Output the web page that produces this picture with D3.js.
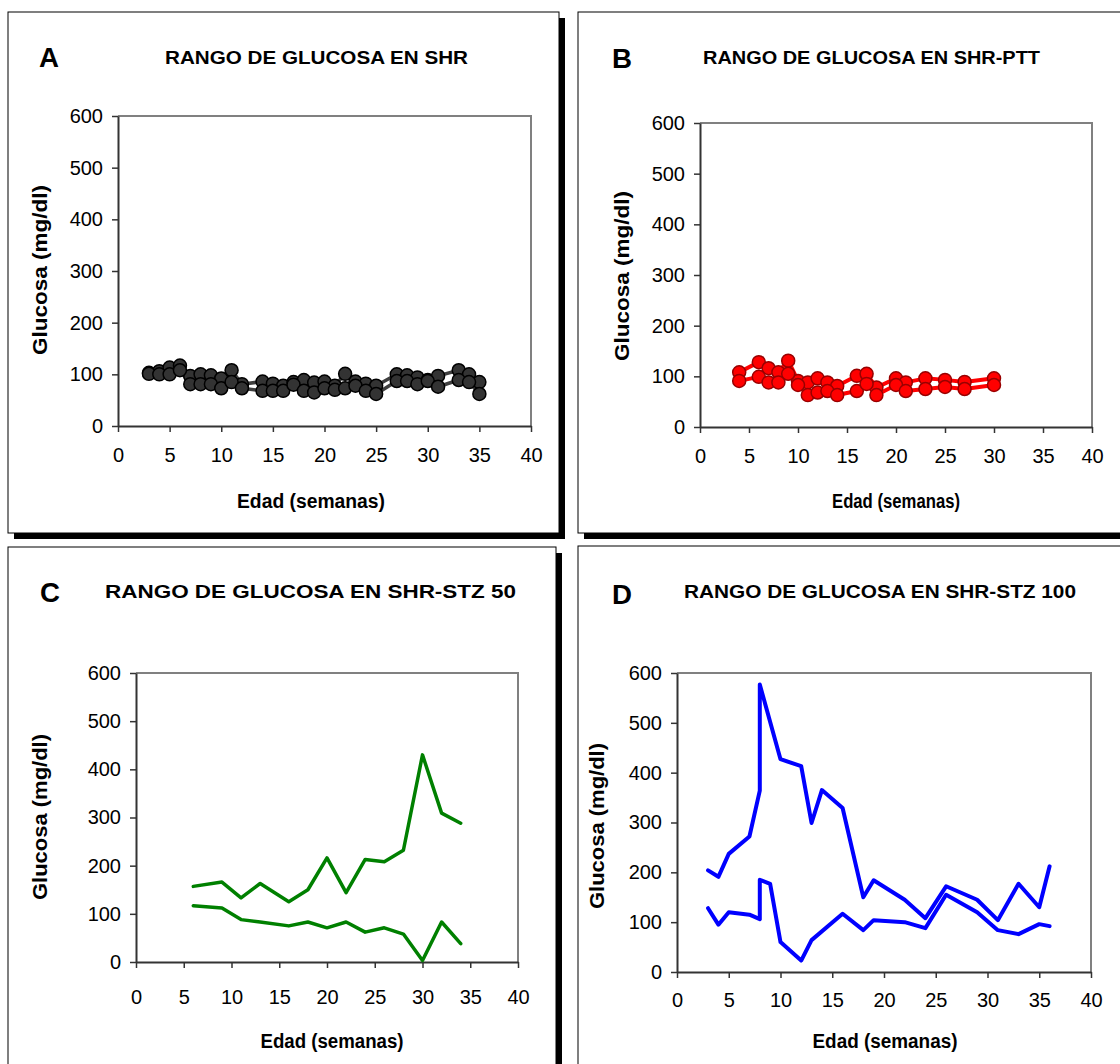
<!DOCTYPE html>
<html>
<head>
<meta charset="utf-8">
<script src="https://cdn.jsdelivr.net/npm/d3@7"></script>
<style>
  html, body { margin: 0; padding: 0; background: #fff; }
  svg { display: block; font-family: "Liberation Sans", Arial, sans-serif; }
</style>
</head>
<body>
<svg id="chart" width="1120" height="1064"></svg>
<script>
// ---------------- DATA ----------------
const xTicks = [0, 5, 10, 15, 20, 25, 30, 35, 40];
const yTicks = [0, 100, 200, 300, 400, 500, 600];

// Panel A: SHR
const weeksA = [3,4,5,6,7,8,9,10,11,12,14,15,16,17,18,19,20,21,22,23,24,25,27,28,29,30,31,33,34,35];
const shrHigh = [103,106,113,117,97,100,98,92,108,81,86,82,78,85,89,84,86,78,101,86,82,78,100,98,94,89,97,108,100,85];
const shrLow  = [101,100,100,108,81,81,81,73,85,73,68,68,68,80,68,65,73,70,73,78,68,62,87,87,81,87,76,89,85,62];

// Panel B: SHR-PTT
const weeksB = [4,6,7,8,9,10,11,12,13,14,16,17,18,20,21,23,25,27,30];
const pttHigh = [108,128,116,108,131,91,88,96,88,81,101,105,78,96,88,96,93,89,96];
const pttLow  = [91,99,88,88,105,83,63,68,71,63,71,85,63,83,71,75,79,75,83];

// Panel C: SHR-STZ 50
const weeksC = [6,9,11,13,16,18,20,22,24,26,28,30,32,34];
const stz50High = [157,166,133,163,125,150,216,144,213,208,232,430,309,288];
const stz50Low  = [117,112,88,83,75,83,71,83,62,71,58,3,83,38];

// Panel D: SHR-STZ 100
const weeksDHigh = [3,4,5,7,8,8,10,12,13,14,16,18,19,22,24,26,29,31,33,35,36];
const stz100High = [204,191,237,272,364,577,427,413,299,365,329,150,184,145,108,172,145,104,177,130,212];
const weeksDLow  = [3,4,5,7,8,8,9,10,12,13,16,18,19,22,24,26,29,31,33,35,36];
const stz100Low  = [128,95,120,115,106,185,177,60,23,64,117,84,104,100,88,155,120,84,76,96,92];

const letters = ["A", "B", "C", "D"];
const titles = [
  "RANGO DE GLUCOSA EN SHR",
  "RANGO DE GLUCOSA EN SHR-PTT",
  "RANGO DE GLUCOSA EN SHR-STZ 50",
  "RANGO DE GLUCOSA EN SHR-STZ 100"
];
const xTitle = "Edad (semanas)";
const yTitle = "Glucosa (mg/dl)";

// ---------------- DRAW ----------------
const svg = d3.select("#chart");
svg.append("rect").attr("width", 1120).attr("height", 1064).attr("fill", "#fff");

// panel frames with drop shadows
const frames = [
  {x: 8, y: 12, w: 551, h: 521},
  {x: 578, y: 12, w: 560, h: 521},
  {x: 8, y: 547, w: 548, h: 540},
  {x: 578, y: 546, w: 560, h: 540}
];
frames.forEach(f => {
  svg.append("rect").attr("x", f.x + 6).attr("y", f.y + 6).attr("width", f.w).attr("height", f.h).attr("fill", "#000");
  svg.append("rect").attr("x", f.x).attr("y", f.y).attr("width", f.w).attr("height", f.h)
    .attr("fill", "#fff").attr("stroke", "#000").attr("stroke-width", 1);
});

const panels = [
  {
    left: 118, right: 531, top: 116, bottom: 426,
    letterX: 39, letterY: 67, titleX0: 165, titleX1: 468, titleY: 64,
    xLabY: 36, xTitleX: 311, xTitleY: 508, xTitleLen: 148,
    yTitleX: 47, yTitleY: 270, yTitleLen: 170,
    series: [{x: weeksA, y: shrHigh}, {x: weeksA, y: shrLow}],
    color: "#3f3f3f", lw: 3.5, marker: {fill: "#333", stroke: "#000", r: 6.5}
  },
  {
    left: 700, right: 1092, top: 123, bottom: 427,
    letterX: 612, letterY: 68, titleX0: 703, titleX1: 1040, titleY: 64,
    xLabY: 36, xTitleX: 896, xTitleY: 508, xTitleLen: 128,
    yTitleX: 629, yTitleY: 276, yTitleLen: 170,
    series: [{x: weeksB, y: pttHigh}, {x: weeksB, y: pttLow}],
    color: "#ff0000", lw: 4, marker: {fill: "#ff0000", stroke: "#990000", r: 6.5}
  },
  {
    left: 136, right: 518, top: 673, bottom: 962,
    letterX: 40, letterY: 602, titleX0: 105, titleX1: 516, titleY: 598,
    xLabY: 42, xTitleX: 332, xTitleY: 1048, xTitleLen: 143,
    yTitleX: 47, yTitleY: 817, yTitleLen: 166,
    series: [{x: weeksC, y: stz50High}, {x: weeksC, y: stz50Low}],
    color: "#008000", lw: 3.5, marker: null
  },
  {
    left: 677, right: 1091, top: 673, bottom: 972,
    letterX: 612, letterY: 604, titleX0: 684, titleX1: 1076, titleY: 598,
    xLabY: 35, xTitleX: 885, xTitleY: 1048, xTitleLen: 145,
    yTitleX: 604, yTitleY: 826, yTitleLen: 166,
    series: [{x: weeksDHigh, y: stz100High}, {x: weeksDLow, y: stz100Low}],
    color: "#0000ff", lw: 4, marker: null
  }
];

panels.forEach((p, i) => {
  const g = svg.append("g");
  const x = d3.scaleLinear().domain([0, 40]).range([p.left, p.right]);
  const y = d3.scaleLinear().domain([0, 600]).range([p.bottom, p.top]);

  // letter + title
  g.append("text").attr("x", p.letterX).attr("y", p.letterY)
    .attr("font-size", 27).attr("font-weight", "bold")
    .attr("textLength", 20).attr("lengthAdjust", "spacingAndGlyphs")
    .text(letters[i]);
  g.append("text").attr("x", p.titleX0).attr("y", p.titleY)
    .attr("font-size", 19).attr("font-weight", "bold")
    .attr("textLength", p.titleX1 - p.titleX0).attr("lengthAdjust", "spacingAndGlyphs")
    .text(titles[i]);

  // plot border (gray top & right)
  g.append("path")
    .attr("d", `M${p.left},${p.top}H${p.right}V${p.bottom}`)
    .attr("fill", "none").attr("stroke", "#808080").attr("stroke-width", 2);

  // axes
  const xAxis = d3.axisBottom(x).tickValues(xTicks).tickSize(6).tickSizeOuter(0).tickPadding(p.xLabY - 20);
  const yAxis = d3.axisLeft(y).tickValues(yTicks).tickSize(6).tickSizeOuter(0).tickPadding(9);
  const gx = g.append("g").attr("transform", `translate(0,${p.bottom})`).call(xAxis);
  const gy = g.append("g").attr("transform", `translate(${p.left},0)`).call(yAxis);
  [gx, gy].forEach(ax => {
    ax.select(".domain").attr("stroke", "#333").attr("stroke-width", 2);
    ax.selectAll(".tick line").attr("stroke", "#333").attr("stroke-width", 1.5);
    ax.selectAll(".tick text").attr("font-size", 20).attr("fill", "#000")
      .attr("font-family", "'Liberation Sans', Arial, sans-serif");
  });

  // axis titles
  g.append("text").attr("x", p.xTitleX).attr("y", p.xTitleY)
    .attr("text-anchor", "middle").attr("font-size", 20).attr("font-weight", "bold")
    .attr("textLength", p.xTitleLen).attr("lengthAdjust", "spacingAndGlyphs")
    .text(xTitle);
  g.append("text").attr("transform", `translate(${p.yTitleX},${p.yTitleY}) rotate(-90)`)
    .attr("text-anchor", "middle").attr("font-size", 20).attr("font-weight", "bold")
    .attr("textLength", p.yTitleLen).attr("lengthAdjust", "spacingAndGlyphs")
    .text(yTitle);

  // series
  const line = d3.line().x(d => x(d[0])).y(d => y(d[1]));
  p.series.forEach(s => {
    const pts = s.x.map((w, k) => [w, s.y[k]]);
    g.append("path").datum(pts).attr("d", line)
      .attr("fill", "none").attr("stroke", p.color).attr("stroke-width", p.lw)
      .attr("stroke-linejoin", "round").attr("stroke-linecap", "round");
  });
  if (p.marker) {
    p.series.forEach(s => {
      const pts = s.x.map((w, k) => [w, s.y[k]]);
      g.selectAll(null).data(pts).enter().append("circle")
        .attr("cx", d => x(d[0])).attr("cy", d => y(d[1])).attr("r", p.marker.r)
        .attr("fill", p.marker.fill).attr("stroke", p.marker.stroke).attr("stroke-width", 1.5);
    });
  }
});
</script>
</body>
</html>
